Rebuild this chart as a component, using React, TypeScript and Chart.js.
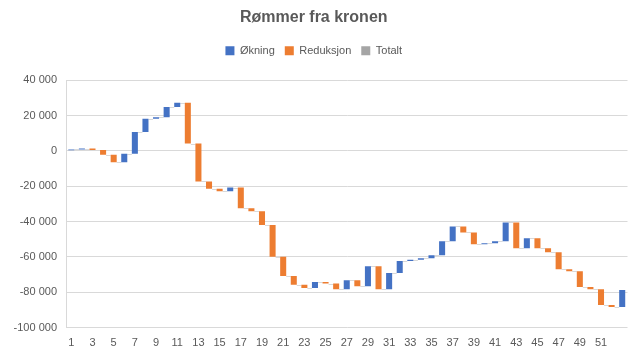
import { useEffect, useRef } from "react";
import { Chart, registerables } from "chart.js";

Chart.register(...registerables);

const title = "Rømmer fra kronen";
const weeks = [
  "1", "2", "3", "4", "5", "6", "7", "8", "9", "10",
  "11", "12", "13", "14", "15", "16", "17", "18", "19", "20",
  "21", "22", "23", "24", "25", "26", "27", "28", "29", "30",
  "31", "32", "33", "34", "35", "36", "37", "38", "39", "40",
  "41", "42", "43", "44", "45", "46", "47", "48", "49", "50",
  "51", "52", "53",
];
// weekly change (positive = Økning, negative = Reduksjon)
const changes = [
  800, 500, -800, -2700, -4300, 4800, 12400, 7500, 800, 5800,
  2400, -23100, -21400, -4100, -1500, 2100, -11700, -1700, -7800, -18000,
  -10800, -5000, -1900, 3400, -800, -3200, 5100, -3400, 11300, -13000,
  9100, 6900, 700, 800, 1700, 7900, 8400, -3400, -6700, 600,
  1100, 10700, -14700, 5700, -5700, -2200, -9600, -1100, -9000, -1200,
  -9000, -1100, 9600,
];
const yTicks = [40000, 20000, 0, -20000, -40000, -60000, -80000, -100000];
const seriesNames = ["Økning", "Reduksjon", "Totalt"];
const seriesColors = ["#4472C4", "#ED7D31", "#A5A5A5"];

const FONT = '"Liberation Sans", Arial, sans-serif';
const TEXT = "#595959";
const GRID = "#D9D9D9";

function fmt(v: number): string {
  const s = Math.abs(v).toString().replace(/\B(?=(\d{3})+(?!\d))/g, " ");
  return (v < 0 ? "-" : "") + s;
}

export default function App() {
  const ref = useRef<HTMLCanvasElement>(null);

  useEffect(() => {
    document.body.style.margin = "0";
    const starts: number[] = [];
    const ends: number[] = [];
    let running = 0;
    changes.forEach((c) => {
      starts.push(running);
      running += c;
      ends.push(running);
    });
    const up = changes.map((c, i) => (c >= 0 ? [starts[i], ends[i]] : null));
    const down = changes.map((c, i) => (c < 0 ? [starts[i], ends[i]] : null));
    const total = changes.map(() => null);

    const connectors = {
      id: "connectors",
      beforeDatasetsDraw(chart: any) {
        const ctx = chart.ctx;
        const y = chart.scales.y;
        const m0 = chart.getDatasetMeta(0);
        const m1 = chart.getDatasetMeta(1);
        ctx.save();
        ctx.strokeStyle = GRID;
        ctx.lineWidth = 1;
        for (let i = 0; i < ends.length - 1; i++) {
          const a = changes[i] >= 0 ? m0.data[i] : m1.data[i];
          const b = changes[i + 1] >= 0 ? m0.data[i + 1] : m1.data[i + 1];
          if (!a || !b) continue;
          const py = Math.round(y.getPixelForValue(ends[i])) + 0.5;
          ctx.beginPath();
          ctx.moveTo(a.x + a.width / 2, py);
          ctx.lineTo(b.x - b.width / 2, py);
          ctx.stroke();
        }
        ctx.restore();
      },
    };

    const legendSpace = {
      id: "legendSpace",
      beforeLayout(chart: any) {
        const lg = chart.legend;
        if (lg && !lg._patched) {
          const fit = lg.fit;
          lg.fit = function () {
            fit.call(this);
            this.height += 14;
          };
          lg._patched = true;
        }
      },
    };

    const chart = new Chart(ref.current!, {
      type: "bar",
      data: {
        labels: weeks,
        datasets: [
          { label: seriesNames[0], data: up as any, backgroundColor: seriesColors[0] },
          { label: seriesNames[1], data: down as any, backgroundColor: seriesColors[1] },
          { label: seriesNames[2], data: total as any, backgroundColor: seriesColors[2] },
        ].map((d) => ({
          ...d,
          grouped: false,
          barPercentage: 0.57,
          categoryPercentage: 1,
          borderWidth: 0,
        })),
      },
      options: {
        responsive: false,
        animation: false,
        devicePixelRatio: 1,
        layout: { padding: { left: 0, right: 10.5, top: 0, bottom: 0 } },
        plugins: {
          title: {
            display: true,
            text: title,
            color: TEXT,
            font: { family: FONT, size: 16, weight: "bold" },
            padding: { top: 8, bottom: 8 },
          },
          legend: {
            display: true,
            position: "top",
            labels: {
              color: TEXT,
              font: { family: FONT, size: 11 },
              boxWidth: 9,
              boxHeight: 9,
              padding: 10,
            },
          },
          tooltip: { enabled: false },
        },
        scales: {
          x: {
            grid: { display: false, drawTicks: false },
            border: { display: false },
            ticks: {
              color: TEXT,
              font: { family: FONT, size: 11 },
              autoSkip: false,
              maxRotation: 0,
              padding: 9,
              callback: (_v: any, i: number) => (i % 2 === 0 && i < 52 ? weeks[i] : ""),
            },
            afterFit: (s: any) => {
              s.height = 35.5;
            },
          },
          y: {
            min: yTicks[yTicks.length - 1],
            max: yTicks[0],
            grid: { color: GRID, drawTicks: false, lineWidth: 1 },
            border: { display: true, color: GRID },
            ticks: {
              stepSize: 20000,
              color: TEXT,
              font: { family: FONT, size: 11 },
              padding: 9,
              callback: (v: any) => fmt(Number(v)),
            },
            afterFit: (s: any) => {
              s.width = 66;
            },
          },
        },
      },
      plugins: [legendSpace, connectors],
    });
    return () => chart.destroy();
  }, []);

  return (
    <div style={{ width: 638, height: 363, position: "relative" }}>
      <canvas ref={ref} width={638} height={363} style={{ display: "block" }} />
    </div>
  );
}
